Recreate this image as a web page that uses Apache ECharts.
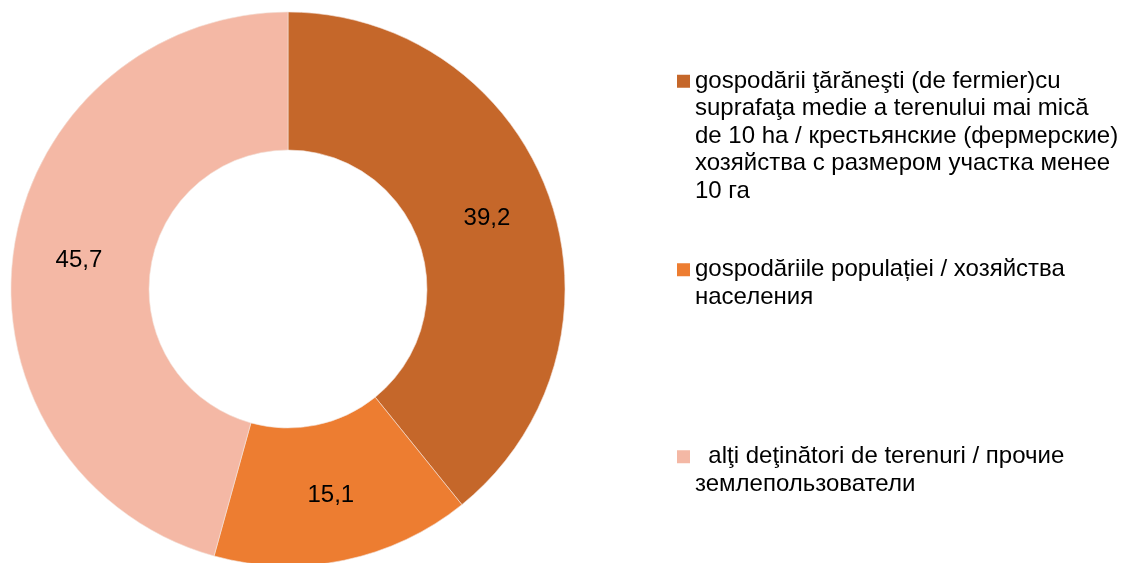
<!DOCTYPE html>
<html>
<head>
<meta charset="utf-8">
<script src="https://cdn.jsdelivr.net/npm/echarts@6/dist/echarts.min.js"></script>
<style>
  html, body { margin: 0; padding: 0; background: #fff; }
  #main { width: 1123px; height: 563px; }
</style>
</head>
<body>
<div id="main"></div>
<script>
// categories (line breaks as in the legend of the picture)
var categories = [
	'gospodării ţărăneşti (de fermier)cu\nsuprafaţa medie a terenului mai mică\nde 10 ha / крестьянские (фермерские)\nхозяйства с размером участка менее\n10 га',
	'gospodăriile populației / хозяйства\nнаселения',
	'  alţi deţinători de terenuri / прочие\nземлепользователи'
];
var values = [39.2, 15.1, 45.7];
var colors = ['#C5672A', '#ED7D31', '#F4B8A5'];

var fontFamily = '"Liberation Sans", Arial, sans-serif';
var lineH = 27.5;

let seriesData = categories.map(function(name, i) {
	return {
		name: name,
		value: values[i],
		itemStyle: { color: colors[i] }
	};
});

// one legend per item; first line pushed down so the square sits on it
let legendTops = [-40.75, 230.25, 417.25];
let legends = categories.map(function(name, i) {
	let lines = name.split('\n').length;
	let pad = (lines - 1) * lineH;
	return {
		data: [name],
		left: 677,
		top: legendTops[i],
		padding: 0,
		itemWidth: 13,
		itemHeight: 13,
		icon: 'rect',
		selectedMode: false,
		itemStyle: { borderWidth: 0 },
		formatter: function(n) {
			let parts = n.split('\n');
			let s = '{f|' + parts[0] + '}';
			for (let k = 1; k < parts.length; k++) {
				s += '\n{r|' + parts[k] + '}';
			}
			return s;
		},
		textStyle: {
			color: '#000',
			fontSize: 24,
			fontFamily: fontFamily,
			rich: {
				f: {
					color: '#000',
					fontSize: 24,
					fontFamily: fontFamily,
					lineHeight: lineH + pad,
					padding: [pad, 0, 0, 0]
				},
				r: {
					color: '#000',
					fontSize: 24,
					fontFamily: fontFamily,
					lineHeight: lineH
				}
			}
		}
	};
});

var option = {
	backgroundColor: '#fff',
	animation: false,
	legend: legends,
	series: [{
		type: 'pie',
		center: [288, 289],
		radius: [139, 277],
		startAngle: 90,
		clockwise: true,
		avoidLabelOverlap: false,
		label: {
			show: true,
			position: 'inside',
			color: '#000',
			fontSize: 24,
			fontFamily: fontFamily,
			formatter: function(p) {
				return p.value.toFixed(1).replace('.', ',');
			}
		},
		labelLine: { show: false },
		itemStyle: {
			borderColor: '#f3e3da',
			borderWidth: 0.6
		},
		emphasis: { disabled: true },
		data: seriesData
	}]
};

var myChart = echarts.init(document.getElementById('main'));
myChart.setOption(option);
</script>
</body>
</html>
